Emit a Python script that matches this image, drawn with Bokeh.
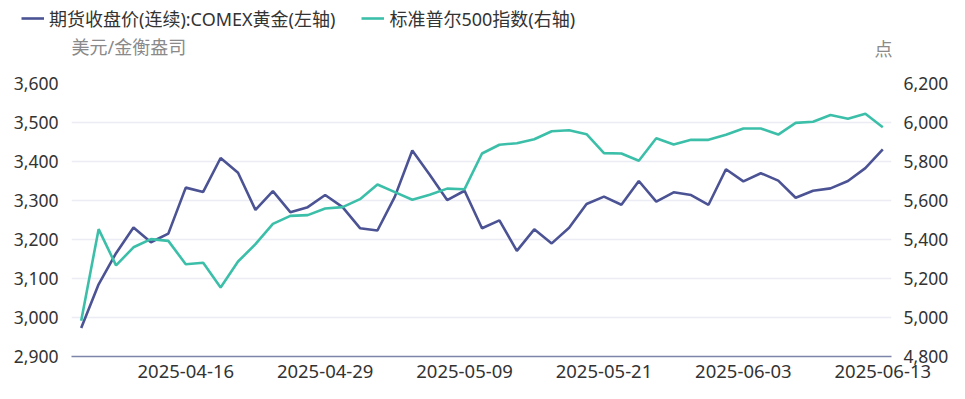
from bokeh.plotting import figure
from bokeh.layouts import column, row
from bokeh.models import (Range1d, LinearAxis, FixedTicker, NumeralTickFormatter,
                          Legend, LegendItem, Label, ColumnDataSource)
from bokeh.embed import file_html
from bokeh.resources import INLINE

dates = [
    "2025-04-08", "2025-04-09", "2025-04-10", "2025-04-11", "2025-04-14", "2025-04-15",
    "2025-04-16", "2025-04-17", "2025-04-21", "2025-04-22", "2025-04-23", "2025-04-24",
    "2025-04-25", "2025-04-28", "2025-04-29", "2025-04-30", "2025-05-01", "2025-05-02",
    "2025-05-05", "2025-05-06", "2025-05-07", "2025-05-08", "2025-05-09", "2025-05-12",
    "2025-05-13", "2025-05-14", "2025-05-15", "2025-05-16", "2025-05-19", "2025-05-20",
    "2025-05-21", "2025-05-22", "2025-05-23", "2025-05-27", "2025-05-28", "2025-05-29",
    "2025-05-30", "2025-06-02", "2025-06-03", "2025-06-04", "2025-06-05", "2025-06-06",
    "2025-06-09", "2025-06-10", "2025-06-11", "2025-06-12", "2025-06-13",
]
gold = [2973, 3085, 3165, 3231, 3193, 3215, 3333, 3322, 3409, 3371, 3276, 3324,
        3270, 3283, 3314, 3283, 3229, 3223, 3310, 3428, 3366, 3301, 3325, 3229,
        3249, 3171, 3226, 3190, 3230, 3291, 3310, 3289, 3350, 3297, 3321, 3314,
        3289, 3380, 3349, 3370, 3351, 3307, 3325, 3331, 3350, 3383, 3431]
spx = [4983, 5453, 5267, 5360, 5402, 5393, 5273, 5281, 5154, 5287, 5376, 5480,
       5521, 5525, 5559, 5566, 5607, 5682, 5643, 5604, 5629, 5661, 5658, 5841,
       5886, 5894, 5914, 5955, 5960, 5940, 5843, 5841, 5804, 5919, 5887, 5911,
       5911, 5937, 5969, 5969, 5938, 5998, 6004, 6038, 6019, 6045, 5976]
x_tick_labels = ["2025-04-16", "2025-04-29", "2025-05-09", "2025-05-21", "2025-06-03", "2025-06-13"]
left_ticks = [2900, 3000, 3100, 3200, 3300, 3400, 3500, 3600]
right_ticks = [4800, 5000, 5200, 5400, 5600, 5800, 6000, 6200]
gold_name = "期货收盘价(连续):COMEX黄金(左轴)"
spx_name = "标准普尔500指数(右轴)"
left_unit = "美元/金衡盎司"
right_unit = "点"

FONT = "Noto Sans, Noto Sans CJK SC"
GOLD_C = "#4b5394"
SPX_C = "#3cbfa9"
TXT = "#333333"
UNIT_C = "#8a8a8a"
W = 965
TOP_H = 70
MAIN_H = 329

# ---------------- header (legend + unit captions) ----------------
top = figure(width=W, height=TOP_H, output_backend="svg", toolbar_location=None,
             x_range=Range1d(0, W), y_range=Range1d(TOP_H, 0),
             min_border_left=0, min_border_right=0, min_border_top=0, min_border_bottom=0,
             x_axis_type=None, y_axis_type=None)
top.outline_line_color = None
top.grid.visible = False
top.background_fill_color = "white"
top.border_fill_color = "white"

d1 = top.line(x=[-10, -5], y=[-10, -10], line_color=GOLD_C, line_width=2.6)
d2 = top.line(x=[-10, -5], y=[-10, -10], line_color=SPX_C, line_width=2.6)
legend = Legend(items=[LegendItem(label=gold_name, renderers=[d1]),
                       LegendItem(label=spx_name, renderers=[d2])],
                location=(21, TOP_H - 31), orientation="horizontal",
                label_text_font=FONT, label_text_font_size="18px", label_text_color=TXT,
                glyph_width=23, glyph_height=20, label_standoff=5, spacing=26,
                padding=0, margin=0, border_line_color=None, background_fill_alpha=0)
top.add_layout(legend)

top.add_layout(Label(x=71, y=46.5, text=left_unit,
                     text_font=FONT, text_font_size="18px", text_color=UNIT_C,
                     text_align="left", text_baseline="middle"))
top.add_layout(Label(x=892, y=48, text=right_unit,
                     text_font=FONT, text_font_size="18px", text_color=UNIT_C,
                     text_align="right", text_baseline="middle"))

# ---------------- main chart ----------------
idx = list(range(len(dates)))
src = ColumnDataSource(dict(x=idx, gold=gold, spx=spx, date=dates))

p = figure(width=W, height=MAIN_H, output_backend="svg", toolbar_location=None,
           x_range=Range1d(-0.557, len(dates) - 1 + 0.5),
           y_range=Range1d(left_ticks[0], left_ticks[-1]),
           min_border_left=71, min_border_right=74, min_border_top=13, min_border_bottom=43)
p.outline_line_color = None
p.background_fill_color = "white"
p.border_fill_color = "white"
p.extra_y_ranges = {"right": Range1d(right_ticks[0], right_ticks[-1])}

xa = p.xaxis[0]
xa.ticker = FixedTicker(ticks=[dates.index(t) for t in x_tick_labels])
xa.major_label_overrides = {dates.index(t): t for t in x_tick_labels}
xa.major_tick_line_color = None
xa.minor_tick_line_color = None
xa.major_tick_out = 0
xa.major_label_standoff = 8
xa.axis_line_color = "#7d86a8"
xa.axis_line_width = 1.5
xa.major_label_text_font = FONT
xa.major_label_text_font_size = "18.5px"
xa.major_label_text_color = TXT

ya = p.yaxis[0]
ya.ticker = FixedTicker(ticks=left_ticks)
ya.formatter = NumeralTickFormatter(format="0,0")
ya.axis_line_color = None
ya.major_tick_line_color = None
ya.minor_tick_line_color = None
ya.major_tick_out = 0
ya.major_label_standoff = 13
ya.major_label_text_font = FONT
ya.major_label_text_font_size = "17.5px"
ya.major_label_text_color = TXT

ra = LinearAxis(y_range_name="right", ticker=FixedTicker(ticks=right_ticks),
                formatter=NumeralTickFormatter(format="0,0"))
ra.axis_line_color = None
ra.major_tick_line_color = None
ra.minor_tick_line_color = None
ra.major_tick_out = 0
ra.major_label_standoff = 12
ra.major_label_text_font = FONT
ra.major_label_text_font_size = "17.5px"
ra.major_label_text_color = TXT
p.add_layout(ra, "right")

p.xgrid.grid_line_color = None
p.ygrid.ticker = FixedTicker(ticks=left_ticks)
p.ygrid.grid_line_color = "#ececf4"
p.ygrid.grid_line_width = 1.5

p.line("x", "gold", source=src, line_color=GOLD_C, line_width=2.6)
p.line("x", "spx", source=src, line_color=SPX_C, line_width=2.6, y_range_name="right")

layout = column(row(top, spacing=0), p, spacing=0)
open("out.html", "w").write(file_html(layout, INLINE))
